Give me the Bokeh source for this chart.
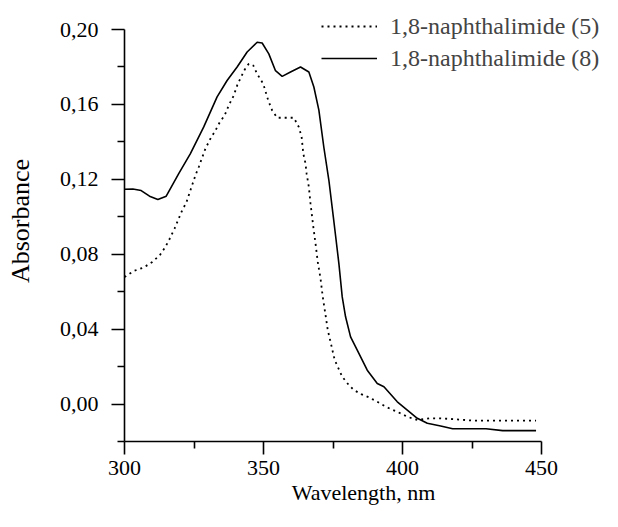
from bokeh.plotting import figure
from bokeh.models import FixedTicker, Range1d, Legend, LegendItem
from bokeh.embed import file_html
from bokeh.resources import INLINE

# ---- data ----
wl_5 = [300.0, 303.4, 306.9, 310.0, 312.7, 314.7, 316.3, 318.0, 320.5, 322.3, 325.5, 326.7,
        329.1, 330.9, 332.7, 334.3, 336.0, 337.5, 339.3, 340.6, 342.0, 343.2, 344.7, 346.3,
        347.7, 349.9, 351.7, 353.1, 354.9, 358.5, 360.9, 362.7, 363.7, 364.3, 365.1, 365.5,
        366.3, 366.9, 367.9, 368.7, 369.5, 370.5, 371.3, 372.3, 373.1, 374.1, 374.9, 375.6,
        378.3, 380.7, 382.5, 385.1, 387.9, 390.9, 393.9, 399.3, 401.7, 405.3, 410.0, 413.7,
        426.0, 448.0]
abs_5 = [0.0678, 0.0711, 0.0729, 0.0759, 0.0795, 0.0839, 0.0884, 0.0937, 0.1026, 0.1079, 0.1221, 0.1266,
         0.1364, 0.1417, 0.1461, 0.1506, 0.1541, 0.1595, 0.1648, 0.1705, 0.1749, 0.1785, 0.1817, 0.1808,
         0.1763, 0.1710, 0.1621, 0.1568, 0.1529, 0.1529, 0.1529, 0.1479, 0.1426, 0.1337, 0.1284, 0.1230,
         0.1159, 0.1070, 0.0946, 0.0857, 0.0759, 0.0670, 0.0572, 0.0475, 0.0395, 0.0332, 0.0279, 0.0235,
         0.0146, 0.0101, 0.0075, 0.0053, 0.0036, 0.0012, -0.0014, -0.0050, -0.0068, -0.0085, -0.0076, -0.0076,
         -0.0089, -0.0089]

wl_8 = [300.0, 303.0, 306.0, 309.0, 312.0, 315.0, 319.5, 323.7, 328.5, 333.3, 336.9, 340.5,
        344.1, 347.7, 349.5, 351.9, 354.3, 356.7, 359.7, 363.3, 366.3, 368.1, 369.9, 371.7,
        373.5, 375.1, 375.9, 377.1, 378.3, 379.5, 381.3, 383.7, 387.3, 390.9, 393.3, 398.1,
        401.7, 405.3, 408.9, 413.7, 418.0, 430.0, 436.0, 448.0]
abs_8 = [0.1147, 0.1148, 0.1140, 0.1110, 0.1092, 0.1110, 0.1230, 0.1337, 0.1480, 0.1640, 0.1728, 0.1800,
         0.1880, 0.1932, 0.1928, 0.1870, 0.1780, 0.1750, 0.1773, 0.1800, 0.1773, 0.1693, 0.1570, 0.1370,
         0.1195, 0.1000, 0.0900, 0.0750, 0.0572, 0.0466, 0.0359, 0.0288, 0.0181, 0.0110, 0.0092, 0.0012,
         -0.0032, -0.0076, -0.0103, -0.0117, -0.0132, -0.0132, -0.0142, -0.0142]

x_ticks = [300, 350, 400, 450]
x_minor = [325, 375, 425]
y_ticks = [0.0, 0.04, 0.08, 0.12, 0.16, 0.2]
y_labels = ["0,00", "0,04", "0,08", "0,12", "0,16", "0,20"]
y_minor = [-0.02, 0.02, 0.06, 0.10, 0.14, 0.18]
series_labels = ["1,8-naphthalimide (5)", "1,8-naphthalimide (8)"]

FONT = "Liberation Serif"

# the visible range extends past 450 / 0.20 to leave room for the legend;
# the axis lines themselves stop at 450 and 0.20 (axis bounds)
p = figure(width=602, height=511, output_backend="svg", toolbar_location=None,
           x_range=Range1d(300, 471.9), y_range=Range1d(-0.02, 0.2155),
           min_border_left=124, min_border_right=0, min_border_top=0, min_border_bottom=70)
p.outline_line_color = None
p.grid.visible = False
p.background_fill_color = "white"
p.border_fill_color = "white"

r5 = p.line(wl_5, abs_5, line_color="black", line_width=1.8, line_dash="2 4")
r8 = p.line(wl_8, abs_8, line_color="black", line_width=1.6)

xa = p.xaxis[0]
xa.ticker = FixedTicker(ticks=x_ticks, minor_ticks=x_minor)
xa.bounds = (300, 450)
ya = p.yaxis[0]
ya.ticker = FixedTicker(ticks=y_ticks, minor_ticks=y_minor)
ya.major_label_overrides = {t: l for t, l in zip(y_ticks, y_labels)}
ya.bounds = (-0.02, 0.2)

for ax in (xa, ya):
    ax.axis_line_width = 1.6
    ax.major_tick_line_width = 1.6
    ax.minor_tick_line_width = 1.6
    ax.major_tick_in = 0
    ax.major_tick_out = 13
    ax.minor_tick_in = 0
    ax.minor_tick_out = 7
    ax.major_label_text_font = FONT
    ax.major_label_text_font_size = "22px"
    ax.major_label_text_color = "black"
    ax.axis_label_text_font = FONT
    ax.axis_label_text_font_style = "normal"
    ax.axis_label_text_color = "black"

xa.axis_label = "Wavelength, nm"
xa.axis_label_text_font_size = "22px"
xa.major_label_standoff = 6
xa.axis_label_standoff = 2
ya.axis_label = "Absorbance"
ya.axis_label_text_font_size = "26px"
ya.major_label_standoff = 13
ya.axis_label_standoff = 22

legend = Legend(items=[LegendItem(label=series_labels[0], renderers=[r5]),
                       LegendItem(label=series_labels[1], renderers=[r8])],
                location=(197, 369), padding=0, margin=0, spacing=4,
                label_height=28, glyph_height=28, glyph_width=56, label_standoff=13,
                label_text_font=FONT, label_text_font_size="24px",
                border_line_alpha=0, background_fill_alpha=0)
p.add_layout(legend, "center")

open("out.html", "w").write(file_html(p, INLINE))
